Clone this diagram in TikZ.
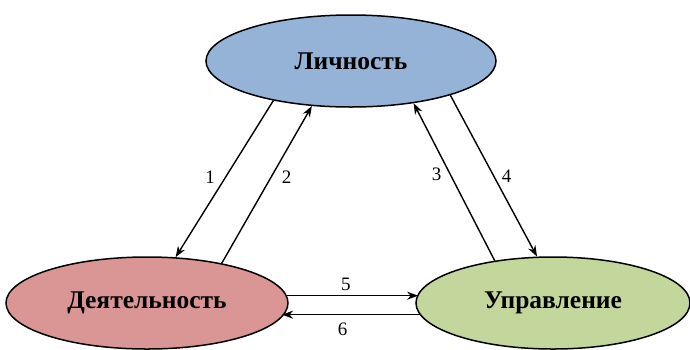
\documentclass[tikz,border=0pt]{standalone}
\usepackage{fontspec}
\setmainfont{Liberation Serif}
\usepackage{tikz}
\usetikzlibrary{shapes.geometric}
\usetikzlibrary{arrows.meta}
\definecolor{lichblue}{HTML}{95B3D7}
\definecolor{deyatred}{HTML}{D99694}
\definecolor{uprgreen}{HTML}{C3D69B}
\tikzstyle{bigvertex}=[ellipse,draw=black,line width=1.5pt,inner sep=0pt,minimum height=92pt,font=\fontsize{25.5}{30}\selectfont\bfseries]
\tikzstyle{edge} = [draw,line width=1.4pt,-{Stealth[length=11pt,width=8pt,inset=3.5pt]}]
\tikzstyle{weight} = [font=\fontsize{19}{22}\selectfont,inner sep=0pt]

\begin{document}
\begin{tikzpicture}[x=1pt,y=-1pt]
\useasboundingbox (0,0) rectangle (690,349);

    % First we draw the three ellipses
    \foreach \pos/\name/\label/\col/\w in {{(351,61)/top/Личность/lichblue/290}, {(147,303)/left/Деятельность/deyatred/282}, {(553,303)/right/Управление/uprgreen/274}}
        \node[bigvertex, fill=\col, minimum width=\w pt] (\name) at \pos {\label};

    % Connect ellipses with arrows and draw numbers
    \path[edge] (top.207) -- node[weight, pos=0.49, left=10pt] {1} (left.58);
    \path[edge] (left.28) -- node[weight, pos=0.55, right=10pt] {2} (top.229);
    \path[edge] (right.144) -- node[weight, pos=0.55, left=8pt] {3} (top.326);
    \path[edge] (top.341) -- node[weight, pos=0.5, right=7.5pt] {4} (right.109);
    \path[edge] (left.3.7) -- node[weight, pos=0.45, above=4.5pt] {5} (right.176.2 |- left.3.7);
    \path[edge] (right.185.9) -- node[weight, pos=0.56, below=7.5pt] {6} (left.354 |- right.185.9);

\end{tikzpicture}
\end{document}
